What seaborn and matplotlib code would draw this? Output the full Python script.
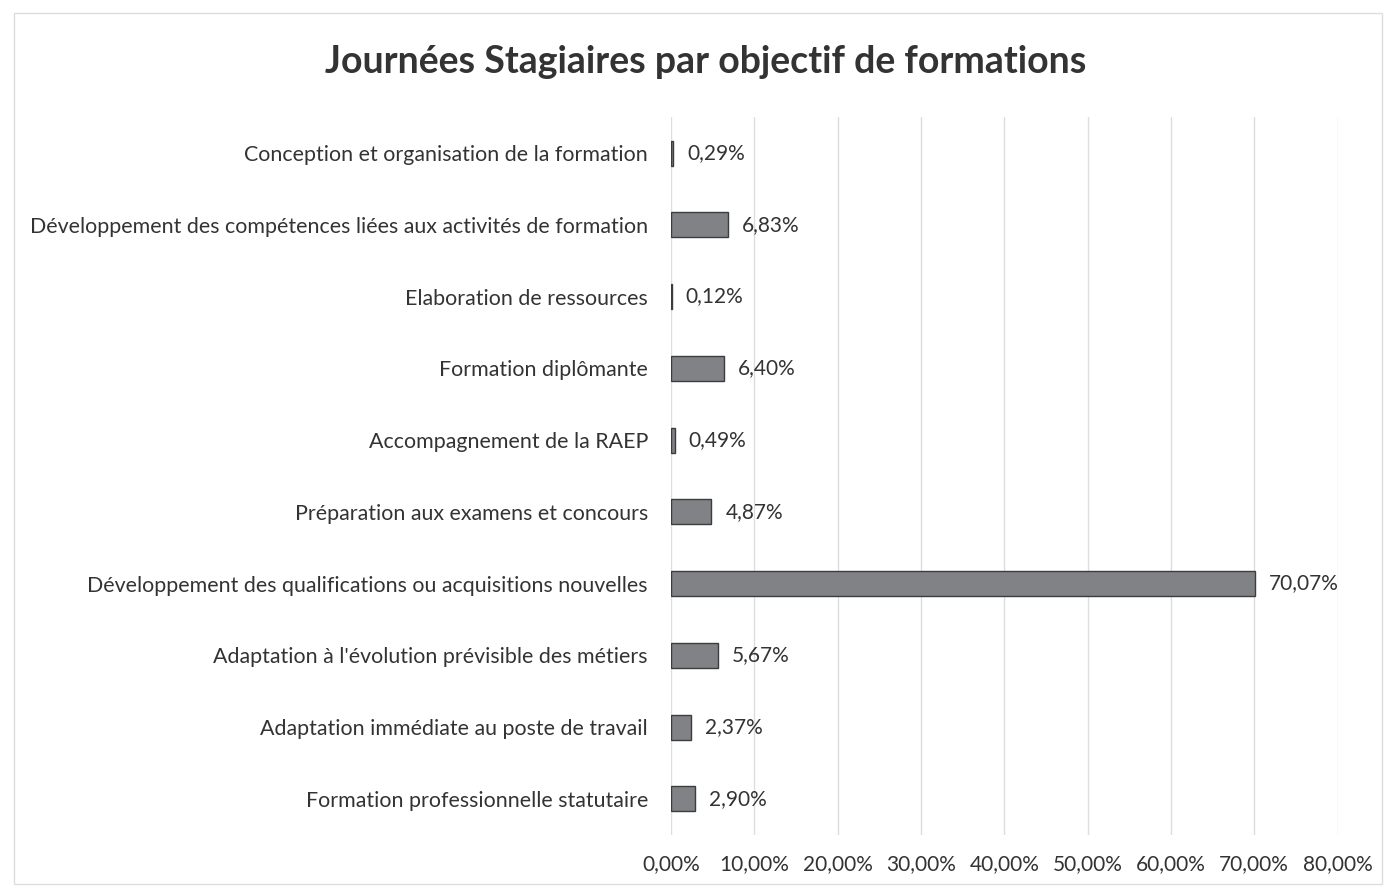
import matplotlib.pyplot as plt
import seaborn as sns
import pandas as pd
from matplotlib.patches import Rectangle

# Data (top to bottom as shown)
objectifs = [
    "Conception et organisation de la formation",
    "Développement des compétences liées aux activités de formation",
    "Elaboration de ressources",
    "Formation diplômante",
    "Accompagnement de la RAEP",
    "Préparation aux examens et concours",
    "Développement des qualifications ou acquisitions nouvelles",
    "Adaptation à l'évolution prévisible des métiers",
    "Adaptation immédiate au poste de travail",
    "Formation professionnelle statutaire",
]
pourcentages = [0.29, 6.83, 0.12, 6.40, 0.49, 4.87, 70.07, 5.67, 2.37, 2.90]
x_ticks = [0, 10, 20, 30, 40, 50, 60, 70, 80]

df = pd.DataFrame({"objectif": objectifs, "pct": pourcentages})

sns.set_style("white")
plt.rcParams['font.family'] = ['Lato', 'DejaVu Sans']

fig = plt.figure(figsize=(13.89, 8.88), dpi=100)
ax = fig.add_axes([0.483, 0.060, 0.480, 0.808])

sns.barplot(data=df, x="pct", y="objectif", orient="h", color="#808285",
            saturation=1, width=0.35, edgecolor="#3a3c3e", linewidth=1, ax=ax)

for i, v in enumerate(pourcentages):
    ax.annotate(f"{v:.2f}".replace(".", ",") + "%", (v, i), xytext=(10, 0),
                textcoords="offset points", va="center", ha="left",
                fontsize=15, color="#333333")

ax.set_xlim(0, 80)
ax.set_ylim(9.5, -0.5)
ax.set_xticks(x_ticks)
ax.set_xticklabels([f"{t:.2f}".replace(".", ",") + "%" for t in x_ticks])
ax.xaxis.grid(True, color="#dddddd", linewidth=1)
ax.set_axisbelow(True)
for s in ax.spines.values():
    s.set_visible(False)
ax.tick_params(axis="x", labelsize=15, colors="#333333", pad=14, length=0)
ax.tick_params(axis="y", labelsize=15.4, colors="#333333", pad=16.5, length=0)
ax.set_xlabel("")
ax.set_ylabel("")

fig.text(0.508, 0.930, "Journées Stagiaires par objectif de formations",
         ha="center", va="center", fontsize=27, fontweight="bold", color="#333333")

fig.patches.append(Rectangle((0.010, 0.004), 0.985, 0.981, transform=fig.transFigure,
                             fill=False, edgecolor="#dddddd", linewidth=1))

fig.savefig("out.png", dpi=100)
